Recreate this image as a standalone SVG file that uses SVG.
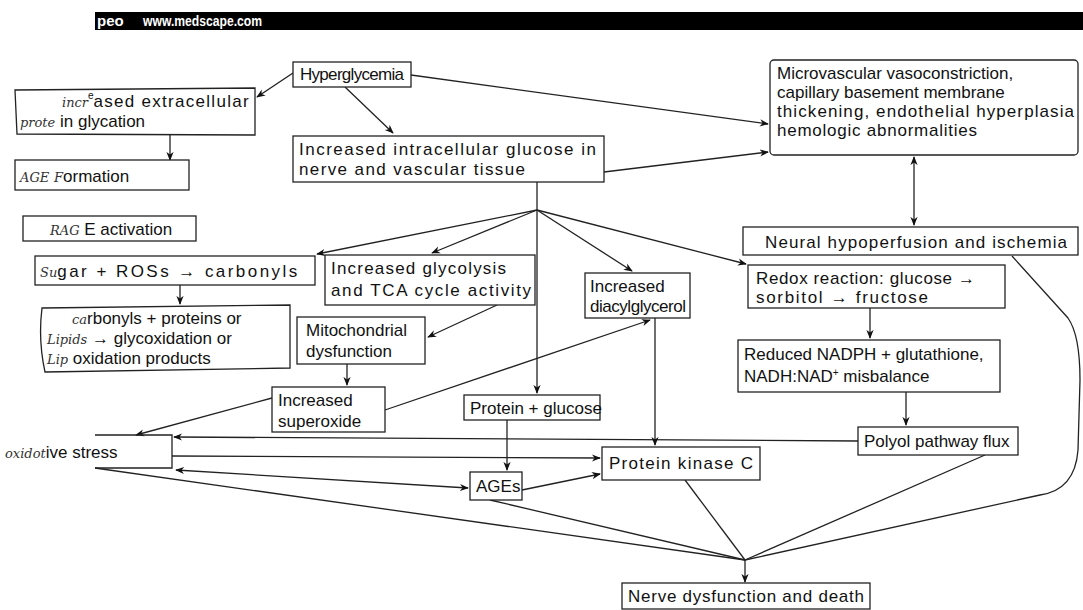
<svg xmlns="http://www.w3.org/2000/svg" width="1083" height="610" viewBox="0 0 1083 610">
<style>
.box{fill:#fff;stroke:#222;stroke-width:1.3}
.t{font-family:"Liberation Sans",Arial,sans-serif;font-size:17px;fill:#111}
.h{font-family:"DejaVu Serif",serif;font-style:italic;font-size:13px;fill:#333}
.c{fill:none;stroke:#222;stroke-width:1.3;marker-end:url(#a)}
.d{fill:none;stroke:#222;stroke-width:1.3;marker-start:url(#a);marker-end:url(#a)}
.n{fill:none;stroke:#222;stroke-width:1.3}
</style>
<defs>
<marker id="a" viewBox="0 0 10 10" refX="9" refY="5" markerWidth="9" markerHeight="9" orient="auto-start-reverse" markerUnits="userSpaceOnUse"><path d="M0,1 L10,5 L0,9 L3,5 z" fill="#111"/></marker>
</defs>
<rect width="1083" height="610" fill="#fff"/>
<g id="banner">
<rect x="95" y="12" width="988" height="18" fill="#000"/>
<text x="97" y="26" font-family="Liberation Sans,Arial,sans-serif" font-size="15" font-weight="bold" fill="#fff">peo</text>
<text x="143" y="26" font-family="Liberation Sans,Arial,sans-serif" font-size="15" font-weight="bold" fill="#fff" textLength="119" lengthAdjust="spacingAndGlyphs">www.medscape.com</text>
</g>
<g id="connectors">
<path class="c" d="M293,73 L257,97"/>
<path class="c" d="M345,87 L393,133"/>
<path class="c" d="M411,75 L768,124"/>
<path class="c" d="M604,172 L768,152"/>
<path class="d" d="M914,157 L914,225"/>
<path class="c" d="M170,135 L170,160"/>
<path class="c" d="M537,182 L537,393"/>
<path class="c" d="M537,210 L317,254"/>
<path class="c" d="M537,210 L432,253"/>
<path class="c" d="M537,210 L632,271"/>
<path class="c" d="M537,210 L746,264"/>
<path class="c" d="M180,285 L180,304"/>
<path class="c" d="M497,305 L428,337"/>
<path class="c" d="M347,364 L347,385"/>
<path class="c" d="M385,410 L650,320"/>
<path class="c" d="M272,398 L136,435"/>
<path class="c" d="M870,308 L870,338"/>
<path class="c" d="M906,392 L906,425"/>
<path class="c" d="M858,441 L174,437"/>
<path class="c" d="M172,456 L600,458"/>
<path class="d" d="M176,470 L468,488"/>
<path class="c" d="M507,420 L507,470"/>
<path class="c" d="M655,318 L655,445"/>
<path class="c" d="M522,490 L600,474"/>
<path class="n" d="M95,468 L745,560"/>
<path class="n" d="M490,500 L745,560"/>
<path class="n" d="M685,480 L745,560"/>
<path class="n" d="M985,455 L745,560"/>
<path class="n" d="M1012,256 L1068,318 Q1080,335 1080,380 L1078,450 Q1075,490 1040,495 L745,560"/>
<path class="c" d="M745,560 L745,582"/>
</g>
<g id="hyperglycemia"><rect class="box" x="293" y="62" width="118" height="25"/><text class="t" x="300" y="80" font-size="16" textLength="104" lengthAdjust="spacing">Hyperglycemia</text></g>
<g id="extracellular"><path class="box" d="M15,90 L255,88 L255,135 L17,134 Z"/>
<text class="t" x="62" y="107"><tspan class="h">incr</tspan><tspan font-size="10" dy="-8">e</tspan><tspan dy="8" textLength="155" lengthAdjust="spacing">ased extracellular</tspan></text>
<text class="t" x="20" y="127"><tspan class="h">prote</tspan> in glycation</text></g>
<g id="age"><rect class="box" x="15" y="160" width="174" height="30"/><text class="t" x="20" y="182"><tspan class="h" font-size="16">AGE</tspan>   <tspan class="h" font-size="16">F</tspan>ormation</text></g>
<g id="rage"><rect class="box" x="23" y="216" width="173" height="25"/><text class="t" x="50" y="235"><tspan class="h" font-size="11">RAG</tspan> E activation</text></g>
<g id="intracellular"><rect class="box" x="293" y="136" width="311" height="46"/><text class="t" x="299" y="155" textLength="297" lengthAdjust="spacing">Increased intracellular glucose in</text><text class="t" x="299" y="175" textLength="226" lengthAdjust="spacing">nerve and vascular tissue</text></g>
<g id="microvascular"><rect class="box" x="770" y="60" width="308" height="95" rx="4"/>
<text class="t" x="777" y="79">Microvascular vasoconstriction,</text>
<text class="t" x="777" y="98">capillary basement membrane</text>
<text class="t" x="777" y="117" textLength="297" lengthAdjust="spacing">thickening, endothelial hyperplasia</text>
<text class="t" x="777" y="136" textLength="200" lengthAdjust="spacing">hemologic abnormalities</text></g>
<g id="neural"><rect class="box" x="743" y="227" width="335" height="28"/><text class="t" x="765" y="248" textLength="302" lengthAdjust="spacing">Neural hypoperfusion and ischemia</text></g>
<g id="sugar"><rect class="box" x="35" y="256" width="280" height="29"/><text class="t" x="40" y="277"><tspan class="h">Su</tspan><tspan textLength="240" lengthAdjust="spacing">gar + ROSs → carbonyls</tspan></text></g>
<g id="glycolysis"><rect class="box" x="325" y="255" width="210" height="50"/><text class="t" x="331" y="274" textLength="175" lengthAdjust="spacing">Increased glycolysis</text><text class="t" x="331" y="296" textLength="200" lengthAdjust="spacing">and TCA cycle activity</text></g>
<g id="diacylglycerol"><rect class="box" x="585" y="273" width="105" height="45"/><text class="t" x="590" y="292">Increased</text><text class="t" x="590" y="312" font-size="16" textLength="96" lengthAdjust="spacing">diacylglycerol</text></g>
<g id="redox"><rect class="box" x="748" y="265" width="257" height="43"/><text class="t" x="756" y="284" textLength="219" lengthAdjust="spacing">Redox reaction: glucose →</text><text class="t" x="756" y="303" textLength="172" lengthAdjust="spacing">sorbitol → fructose</text></g>
<g id="carbonyls"><path class="box" d="M42,308 L290,305 L290,368 L45,372 Q38,340 42,308 Z"/>
<text class="t" x="72" y="324"><tspan class="h">ca</tspan>rbonyls + proteins or</text>
<text class="t" x="47" y="344"><tspan class="h">Lipids</tspan> → glycoxidation or</text>
<text class="t" x="47" y="364"><tspan class="h">Lip</tspan> oxidation products</text></g>
<g id="mitochondrial"><rect class="box" x="297" y="317" width="128" height="47"/><text class="t" x="306" y="336">Mitochondrial</text><text class="t" x="306" y="357">dysfunction</text></g>
<g id="superoxide"><rect class="box" x="272" y="387" width="113" height="45"/><text class="t" x="278" y="406">Increased</text><text class="t" x="278" y="427">superoxide</text></g>
<g id="proteinglucose"><rect class="box" x="464" y="395" width="136" height="25"/><text class="t" x="470" y="414">Protein + glucose</text></g>
<g id="reduced"><rect class="box" x="738" y="340" width="262" height="52"/><text class="t" x="744" y="360">Reduced NADPH + glutathione,</text><text class="t" x="744" y="382">NADH:NAD<tspan font-size="10" dy="-6">+</tspan><tspan dy="6"> misbalance</tspan></text></g>
<g id="polyol"><rect class="box" x="858" y="427" width="160" height="28"/><text class="t" x="864" y="447" font-size="16">Polyol pathway flux</text></g>
<g id="oxidative"><path class="n" d="M95,435 L172,435 L172,468 L95,468"/><text class="t" x="5" y="458"><tspan class="h" font-size="15">oxidot</tspan>ive stress</text></g>
<g id="pkc"><rect class="box" x="602" y="447" width="158" height="33"/><text class="t" x="609" y="469" textLength="144" lengthAdjust="spacing">Protein kinase C</text></g>
<g id="ages"><rect class="box" x="470" y="472" width="52" height="28"/><text class="t" x="476" y="492">AGEs</text></g>
<g id="nerve"><rect class="box" x="622" y="583" width="248" height="26"/><text class="t" x="628" y="602" textLength="236" lengthAdjust="spacing">Nerve dysfunction and death</text></g>
</svg>
